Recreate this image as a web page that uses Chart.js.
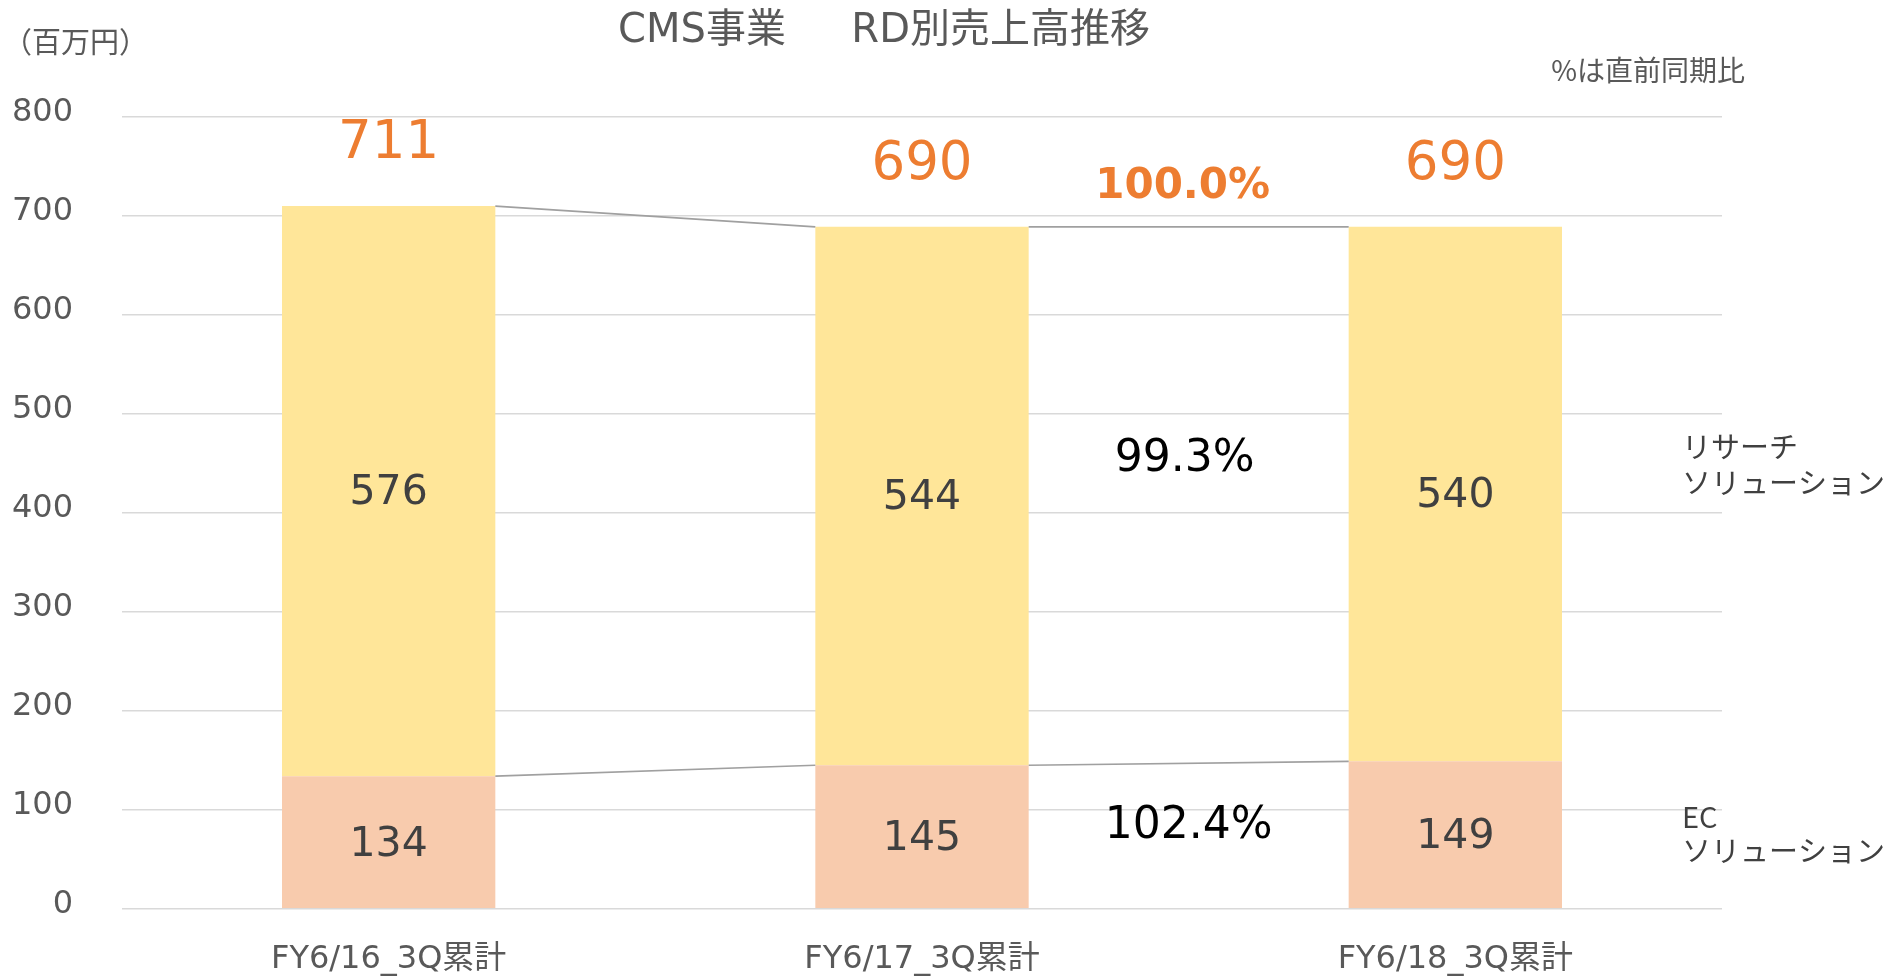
<!DOCTYPE html>
<html><head><meta charset="utf-8">
<script src="https://cdn.jsdelivr.net/npm/chart.js@4"></script>
<style>html,body{margin:0;padding:0;background:#fff;overflow:hidden}#wrap{width:1891px;height:977px;position:relative}</style>
</head><body><div id="wrap"><canvas id="c" width="1891" height="977"></canvas></div>
<script>
// ---- data ----
const categories = ['FY6/16_3Q累計', 'FY6/17_3Q累計', 'FY6/18_3Q累計'];
const ecValues = [134, 145, 149];
const researchValues = [576, 544, 540];
const totalLabels = [711, 690, 690];
const ratioTotal = '100.0%';
const ratioResearch = '99.3%';
const ratioEC = '102.4%';
const ecName = ['EC', 'ソリューション'];
const researchName = ['リサーチ', 'ソリューション'];
const yMin = 0, yMax = 800, yStep = 100;
const titleText = 'CMS事業　  RD別売上高推移';
const unitText = '（百万円）';
const noteText = '%は直前同期比';

const LATIN = '"DejaVu Sans", "Noto Sans CJK JP", sans-serif';
const CJK = '"Noto Sans CJK JP", "DejaVu Sans", sans-serif';

const overlay = {
  id: 'overlay',
  afterDatasetsDraw(chart) {
    const ctx = chart.ctx;
    const m0 = chart.getDatasetMeta(0).data;
    const m1 = chart.getDatasetMeta(1).data;
    const ca = chart.chartArea;
    ctx.save();
    // connectors
    ctx.strokeStyle = '#A0A0A0';
    ctx.lineWidth = 1.6;
    [m0, m1].forEach(bars => {
      for (let i = 0; i < bars.length - 1; i++) {
        const a = bars[i], b = bars[i + 1];
        ctx.beginPath();
        ctx.moveTo(a.x + a.width / 2, a.y);
        ctx.lineTo(b.x - b.width / 2, b.y);
        ctx.stroke();
      }
    });
    // segment labels
    ctx.textAlign = 'center';
    ctx.textBaseline = 'middle';
    ctx.fillStyle = '#404040';
    ctx.font = '41px ' + LATIN;
    m0.forEach((el, i) => ctx.fillText(String(ecValues[i]), el.x, (el.y + el.base) / 2 + 3));
    m1.forEach((el, i) => ctx.fillText(String(researchValues[i]), el.x, (el.y + el.base) / 2 + 2));
    // totals
    ctx.fillStyle = '#ED7D31';
    ctx.font = '53px ' + LATIN;
    m1.forEach((el, i) => ctx.fillText(String(totalLabels[i]), el.x, el.y - 62));
    // ratios between last two bars
    const n = m1.length;
    const xr = (m1[n - 2].x + m1[n - 1].x) / 2 - 4;
    ctx.font = 'bold 42px ' + LATIN;
    ctx.fillText(ratioTotal, xr - 2, m1[n - 1].y - 40);
    ctx.fillStyle = '#000000';
    ctx.font = '44px ' + LATIN;
    ctx.fillText(ratioResearch, xr, (m1[n - 1].y + m1[n - 1].base) / 2 - 35);
    ctx.fillText(ratioEC, xr + 4, (m0[n - 1].y + m0[n - 1].base) / 2 - 8);
    // series names at right
    ctx.textAlign = 'left';
    ctx.fillStyle = '#404040';
    ctx.font = '29px ' + CJK;
    const xl = ca.right - 40;
    const yRes = (m1[n - 1].y + m1[n - 1].base) / 2 - 29;
    ctx.fillText(researchName[0], xl, yRes - 18);
    ctx.fillText(researchName[1], xl, yRes + 18);
    const yEc = (m0[n - 1].y + m0[n - 1].base) / 2 - 1;
    ctx.fillText(ecName[0], xl, yEc - 17);
    ctx.fillText(ecName[1], xl, yEc + 17);
    // title, unit, note
    ctx.fillStyle = '#595959';
    ctx.textAlign = 'center';
    ctx.font = '40px ' + LATIN;
    ctx.fillText(titleText, 884, 32);
    ctx.textAlign = 'left';
    ctx.font = '29px ' + CJK;
    ctx.fillText(unitText, 3, 42);
    ctx.textAlign = 'right';
    ctx.font = '28px ' + CJK;
    ctx.fillText(noteText, ca.right + 23, 70);
    ctx.restore();
  }
};

new Chart(document.getElementById('c'), {
  type: 'bar',
  data: {
    labels: categories,
    datasets: [
      { label: ecName.join(''), data: ecValues, backgroundColor: '#F8CBAD', barPercentage: 0.4, categoryPercentage: 1.0 },
      { label: researchName.join(''), data: researchValues, backgroundColor: '#FFE699', barPercentage: 0.4, categoryPercentage: 1.0 }
    ]
  },
  options: {
    responsive: false,
    animation: false,
    devicePixelRatio: 1,
    layout: { padding: { left: 0, right: 169, top: 117, bottom: 0 } },
    plugins: { legend: { display: false }, title: { display: false }, tooltip: { enabled: false } },
    scales: {
      x: {
        stacked: true,
        grid: { display: false },
        border: { display: false },
        ticks: { color: '#595959', font: { size: 32, family: LATIN }, padding: 24 },
        afterFit(s) { s.height = 68; }
      },
      y: {
        stacked: true,
        min: yMin, max: yMax,
        grid: { color: '#D9D9D9', lineWidth: 1.6, drawTicks: false },
        border: { display: false },
        ticks: { stepSize: yStep, color: '#595959', font: { size: 32, family: LATIN }, padding: 49, labelOffset: -4 },
        afterFit(s) { s.width = 122; }
      }
    }
  },
  plugins: [overlay]
});
</script></body></html>
